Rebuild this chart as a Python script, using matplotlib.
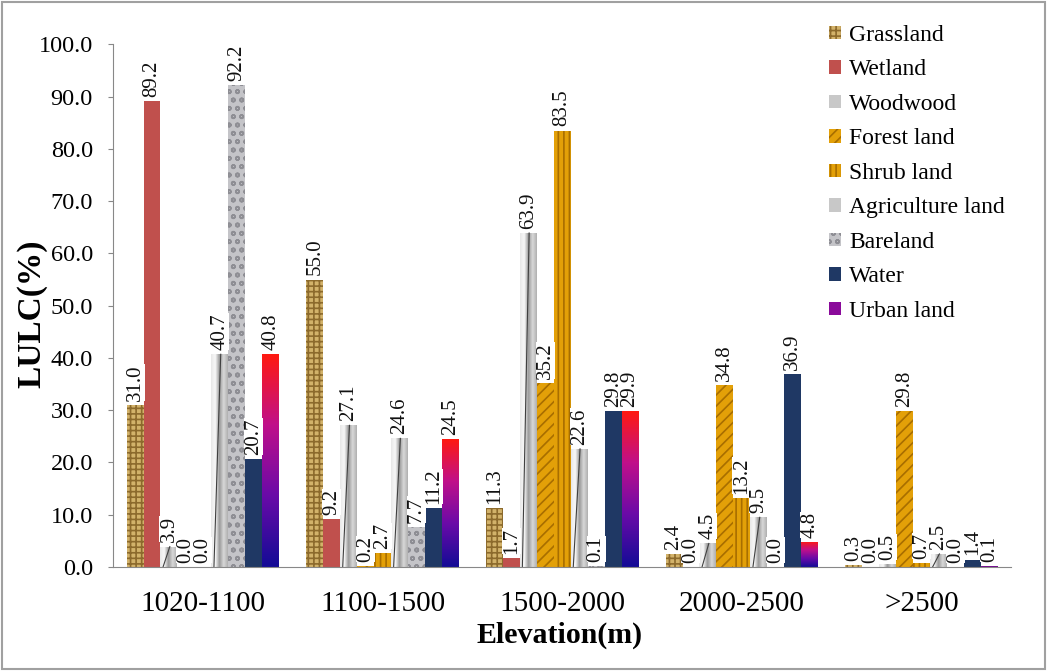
import matplotlib.pyplot as plt
import numpy as np
from matplotlib.patches import Patch, Rectangle
from matplotlib.colors import LinearSegmentedColormap

plt.rcParams['font.family'] = ['Liberation Serif', 'DejaVu Serif']

# LULC share (%) per elevation band
elevation = ['1020-1100', '1100-1500', '1500-2000', '2000-2500', '>2500']
grassland   = [31.0, 55.0, 11.3, 2.4, 0.3]
wetland     = [89.2, 9.2, 1.7, 0.0, 0.0]
woodwood    = [3.9, 27.1, 63.9, 4.5, 0.5]
forest      = [0.0, 0.2, 35.2, 34.8, 29.8]
shrub       = [0.0, 2.7, 83.5, 13.2, 0.7]
agriculture = [40.7, 24.6, 22.6, 9.5, 2.5]
bareland    = [92.2, 7.7, 0.1, 0.0, 0.0]
water       = [20.7, 11.2, 29.8, 36.9, 1.4]
urban       = [40.8, 24.5, 29.9, 4.8, 0.1]

class_names = ['Grassland', 'Wetland', 'Woodwood', 'Forest land', 'Shrub land',
               'Agriculture land', 'Bareland', 'Water', 'Urban land']
series = [grassland, wetland, woodwood, forest, shrub,
          agriculture, bareland, water, urban]

# style per class: (facecolor, hatch, hatch colour, gradient or None)
metal = LinearSegmentedColormap.from_list(
    'metal', ['#e8e8e8', '#f8f8f8', '#9a9a9a', '#d8d8d8', '#b0b0b0'])
urban_cmap = LinearSegmentedColormap.from_list(
    'urban', ['#140c96', '#6a0aa8', '#c0108a', '#ff1a10'])
styles = [
    ('#d2b26a', '+++', '#8c6a2c', None),
    ('#c0504d', None, None, None),
    ('#c8c8c8', None, None, 'hmetal'),
    ('#e3a008', '///', '#a86e00', None),
    ('#e3a008', '|||', '#a86e00', None),
    ('#c8c8c8', None, None, 'hmetal'),
    ('#c4c4c8', 'oo', '#8e8e94', None),
    ('#1f3864', None, None, None),
    ('#8a0a9a', None, None, 'urban'),
]

fig = plt.figure(figsize=(10.47, 6.71), dpi=100)
ax = fig.add_axes([0.108, 0.155, 0.858, 0.779])

x = np.arange(len(elevation))
n = len(series)
group_w = 0.85
bw = group_w / n

legend_handles = []
for i, (vals, name, (fc, hatch, hc, grad)) in enumerate(zip(series, class_names, styles)):
    pos = x - group_w / 2 + bw * (i + 0.5)
    if hatch:
        plt.rcParams['hatch.color'] = hc
        plt.rcParams['hatch.linewidth'] = 1.2
        bars = ax.bar(pos, vals, bw, color=fc, hatch=hatch, linewidth=0, zorder=2)
    else:
        bars = ax.bar(pos, vals, bw, color=fc, linewidth=0, zorder=2)
    if grad is not None:
        for b in bars:
            x0, y0, w, h = b.get_x(), b.get_y(), b.get_width(), b.get_height()
            if h <= 0:
                continue
            if grad == 'urban':
                img = np.linspace(0, 1, 100).reshape(-1, 1)
                im = ax.imshow(img, cmap=urban_cmap, origin='lower', aspect='auto',
                               extent=[x0, x0 + w, y0, y0 + h], zorder=2.1)
            else:
                img = np.linspace(0, 1, 100).reshape(1, -1)
                im = ax.imshow(img, cmap=metal, origin='lower', aspect='auto',
                               extent=[x0, x0 + w, y0, y0 + h], zorder=2.1)
            im.set_clip_path(b)
        if grad == 'hmetal':
            # thin dark stroke that gives the metallic bars their look
            for b in bars:
                if b.get_height() > 1:
                    ax.plot([b.get_x() + b.get_width() * 0.15, b.get_x() + b.get_width() * 0.55],
                            [0, b.get_height()], color='#404040', lw=0.8, zorder=2.2)
    for p, v in zip(pos, vals):
        ax.text(p, v + 0.8, f'{v:.1f}', rotation=90, ha='center', va='bottom',
                fontsize=15, color='#111111', zorder=5,
                bbox=dict(facecolor='white', edgecolor='none', pad=0))
    if hatch:
        legend_handles.append(Patch(facecolor=fc, hatch=hatch, edgecolor=hc, linewidth=0, label=name))
    else:
        legend_handles.append(Patch(facecolor=fc, linewidth=0, label=name))

ax.set_xlim(-0.5, len(elevation) - 0.5)
ax.set_ylim(0, 100)
ax.set_yticks(np.arange(0, 101, 10))
ax.set_yticklabels([f'{t:.1f}' for t in np.arange(0, 101, 10)], fontsize=17.5)
ax.set_xticks(x)
ax.set_xticklabels(elevation, fontsize=21)
ax.tick_params(axis='x', length=0, pad=17)
ax.tick_params(axis='y', length=3.6, color='#888888', pad=11)
for s in ['top', 'right']:
    ax.spines[s].set_visible(False)
for s in ['left', 'bottom']:
    ax.spines[s].set_color('#888888')

ax.set_ylabel('LULC(%)', fontsize=24, fontweight='bold')
ax.yaxis.set_label_coords(-0.073, 0.485)
ax.set_xlabel('Elevation(m)', fontsize=21.5, fontweight='bold')
ax.xaxis.set_label_coords(0.497, -0.105)

fig.legend(handles=legend_handles, loc='upper left', bbox_to_anchor=(829 / 1047, 1 - 25 / 671),
           frameon=False, fontsize=17, handlelength=0.5, handleheight=0.5,
           handletextpad=0.35, labelspacing=0.57, borderpad=0, borderaxespad=0)

fig.patches.append(Rectangle((0.002, 0.003), 0.996, 0.994, transform=fig.transFigure,
                             fill=False, edgecolor='#a0a0a0', linewidth=1.5))

fig.savefig('out.png', dpi=100)
